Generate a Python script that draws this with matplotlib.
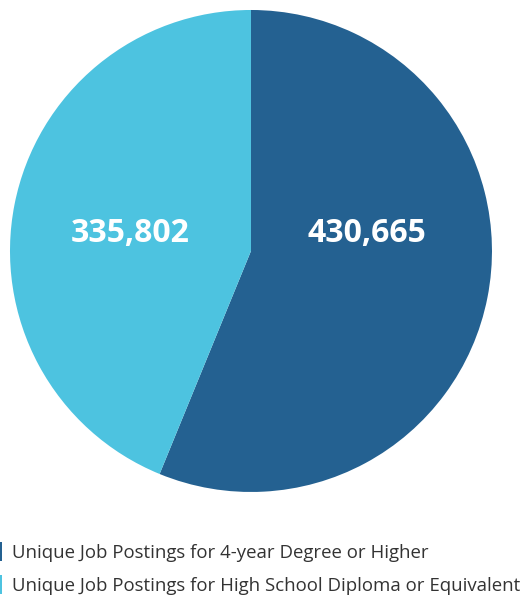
import matplotlib
matplotlib.use('Agg')
import matplotlib.pyplot as plt
from matplotlib.patches import Patch

plt.rcParams['font.family'] = ['Open Sans', 'DejaVu Sans']

labels = ['Unique Job Postings for 4-year Degree or Higher',
          'Unique Job Postings for High School Diploma or Equivalent']
values = [430665, 335802]
colors = ['#246191', '#4dc3e0']

fig = plt.figure(figsize=(5.23, 5.98), dpi=100)
ax = fig.add_axes([0.0191, 0.1773, 0.9216, 0.806])
wedges, _ = ax.pie(values, colors=colors, startangle=90, counterclock=False,
                   radius=1, wedgeprops=dict(linewidth=0))
ax.set_xlim(-1, 1)
ax.set_ylim(-1, 1)

# value labels
lbl_font = dict(color='white', fontsize=23, fontweight='bold')
ax.text(0.48, 0.072, f'{values[0]:,}', ha='center', va='center', **lbl_font)
ax.text(-0.50, 0.072, f'{values[1]:,}', ha='center', va='center', **lbl_font)

handles = [Patch(facecolor=c, edgecolor='none') for c in colors]
fig.legend(handles, labels, loc='upper left', bbox_to_anchor=(-0.035, 0.121),
           frameon=False, fontsize=13.4, handlelength=0.2, handleheight=1.2,
           handletextpad=0.55, labelspacing=0.7, labelcolor='#333333')

fig.savefig('out.png', dpi=100)
